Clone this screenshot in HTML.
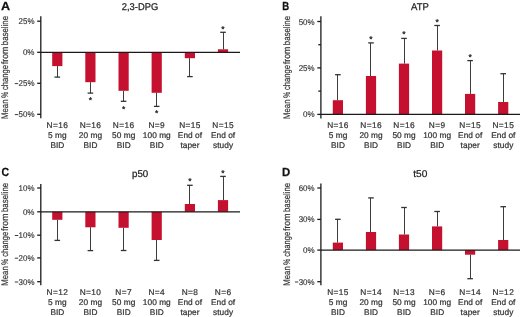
<!DOCTYPE html>
<html><head><meta charset="utf-8"><style>
html,body{margin:0;padding:0;background:#fff;}
body{width:520px;height:317px;overflow:hidden;}
svg{display:block;will-change:transform;}
text{text-rendering:geometricPrecision;font-family:"Liberation Sans", sans-serif;fill:#333;stroke:#333;stroke-width:0.25px;}
.lt{font-weight:bold;font-size:11.8px;fill:#111;stroke:#111;}
.ti{font-size:9.8px;fill:#222;stroke:#222;stroke-width:0.25px;}
.yl{font-size:9.5px;fill:#333;stroke-width:0.2px;}
.tl{font-size:8.3px;fill:#333;stroke-width:0.15px;}
.xl{font-size:8.3px;letter-spacing:0.05px;fill:#333;stroke:#333;stroke-width:0.22px;}
.xn{letter-spacing:0.42px;}
.st{font-size:8.5px;fill:#222;stroke:#222;stroke-width:0.3px;}
.ax{stroke:#1a1a1a;stroke-width:1.3;}
.tk{stroke:#1a1a1a;stroke-width:1.3;}
.eb{stroke:#3d3d3d;stroke-width:1;}
.ec{stroke:#333;stroke-width:1.3;}
</style></head><body>
<svg width="520" height="317" viewBox="0 0 520 317">
<text x="0.9" y="9.5" class="lt" textLength="9.1" lengthAdjust="spacingAndGlyphs">A</text>
<text x="121.8" y="10.0" class="ti" textLength="36.4" lengthAdjust="spacingAndGlyphs">2,3-DPG</text>
<text x="0" y="0" class="yl" transform="translate(7.9 118.9) rotate(-90)" textLength="19.4" lengthAdjust="spacingAndGlyphs">Mean</text>
<text x="0" y="0" class="yl" transform="translate(7.9 98.1) rotate(-90)" textLength="6.3" lengthAdjust="spacingAndGlyphs">%</text>
<text x="0" y="0" class="yl" transform="translate(7.9 90.0) rotate(-90)" textLength="25.0" lengthAdjust="spacingAndGlyphs">change</text>
<text x="0" y="0" class="yl" transform="translate(7.9 64.2) rotate(-90)" textLength="17.5" lengthAdjust="spacingAndGlyphs">from</text>
<text x="0" y="0" class="yl" transform="translate(7.9 45.2) rotate(-90)" textLength="29.2" lengthAdjust="spacingAndGlyphs">baseline</text>
<rect x="52.2" y="52.3" width="10.2" height="13.8" fill="#c5112f"/>
<line x1="57.5" y1="66.1" x2="57.5" y2="77.1" class="eb"/>
<line x1="54.5" y1="77.1" x2="60.1" y2="77.1" class="ec"/>
<rect x="85.3" y="52.3" width="10.2" height="29.9" fill="#c5112f"/>
<line x1="90.5" y1="82.2" x2="90.5" y2="93.1" class="eb"/>
<line x1="87.6" y1="93.1" x2="93.2" y2="93.1" class="ec"/>
<text x="90.4" y="103.0" class="st" text-anchor="middle">*</text>
<rect x="118.5" y="52.3" width="10.2" height="38.5" fill="#c5112f"/>
<line x1="123.5" y1="90.8" x2="123.5" y2="101.3" class="eb"/>
<line x1="120.8" y1="101.3" x2="126.4" y2="101.3" class="ec"/>
<text x="123.6" y="111.5" class="st" text-anchor="middle">*</text>
<rect x="151.6" y="52.3" width="10.2" height="40.5" fill="#c5112f"/>
<line x1="156.5" y1="92.8" x2="156.5" y2="106.4" class="eb"/>
<line x1="153.9" y1="106.4" x2="159.5" y2="106.4" class="ec"/>
<text x="156.7" y="116.0" class="st" text-anchor="middle">*</text>
<rect x="184.8" y="52.3" width="10.2" height="5.9" fill="#c5112f"/>
<line x1="189.5" y1="58.2" x2="189.5" y2="76.6" class="eb"/>
<line x1="187.1" y1="76.6" x2="192.7" y2="76.6" class="ec"/>
<rect x="217.9" y="49.3" width="10.2" height="3.0" fill="#c5112f"/>
<line x1="223.5" y1="49.3" x2="223.5" y2="32.3" class="eb"/>
<line x1="220.2" y1="32.3" x2="225.8" y2="32.3" class="ec"/>
<text x="223.0" y="31.7" class="st" text-anchor="middle">*</text>
<line x1="40.8" y1="16.2" x2="40.8" y2="118.3" class="ax"/>
<line x1="40.8" y1="52.3" x2="240" y2="52.3" class="ax"/>
<line x1="37.2" y1="21.2" x2="40.8" y2="21.2" class="tk"/>
<text x="18.60" y="24.2" class="tl" textLength="15.9" lengthAdjust="spacingAndGlyphs">25%</text>
<line x1="37.2" y1="52.3" x2="40.8" y2="52.3" class="tk"/>
<text x="22.90" y="55.3" class="tl" textLength="11.6" lengthAdjust="spacingAndGlyphs">0%</text>
<line x1="37.2" y1="83.3" x2="40.8" y2="83.3" class="tk"/>
<text x="18.60" y="86.3" class="tl" textLength="15.9" lengthAdjust="spacingAndGlyphs">25%</text>
<rect x="14.80" y="83.10" width="3.4" height="1" fill="#3a3a3a"/>
<line x1="37.2" y1="114.3" x2="40.8" y2="114.3" class="tk"/>
<text x="18.60" y="117.3" class="tl" textLength="15.9" lengthAdjust="spacingAndGlyphs">50%</text>
<rect x="14.80" y="114.10" width="3.4" height="1" fill="#3a3a3a"/>
<text x="57.4" y="128.1" class="xl xn" text-anchor="middle">N=16</text>
<text x="57.4" y="138.1" class="xl" text-anchor="middle">5 mg</text>
<text x="57.4" y="148.1" class="xl" text-anchor="middle">BID</text>
<text x="90.5" y="128.1" class="xl xn" text-anchor="middle">N=16</text>
<text x="90.5" y="138.1" class="xl" text-anchor="middle">20 mg</text>
<text x="90.5" y="148.1" class="xl" text-anchor="middle">BID</text>
<text x="123.7" y="128.1" class="xl xn" text-anchor="middle">N=16</text>
<text x="123.7" y="138.1" class="xl" text-anchor="middle">50 mg</text>
<text x="123.7" y="148.1" class="xl" text-anchor="middle">BID</text>
<text x="156.8" y="128.1" class="xl xn" text-anchor="middle">N=9</text>
<text x="156.8" y="138.1" class="xl" text-anchor="middle">100 mg</text>
<text x="156.8" y="148.1" class="xl" text-anchor="middle">BID</text>
<text x="190.0" y="128.1" class="xl xn" text-anchor="middle">N=15</text>
<text x="190.0" y="138.1" class="xl" text-anchor="middle">End of</text>
<text x="190.0" y="148.1" class="xl" text-anchor="middle">taper</text>
<text x="223.1" y="128.1" class="xl xn" text-anchor="middle">N=15</text>
<text x="223.1" y="138.1" class="xl" text-anchor="middle">End of</text>
<text x="223.1" y="148.1" class="xl" text-anchor="middle">study</text>
<text x="282.2" y="9.8" class="lt" textLength="6.9" lengthAdjust="spacingAndGlyphs">B</text>
<text x="411.1" y="10.0" class="ti" textLength="17.8" lengthAdjust="spacingAndGlyphs">ATP</text>
<text x="0" y="0" class="yl" transform="translate(290.1 118.9) rotate(-90)" textLength="19.4" lengthAdjust="spacingAndGlyphs">Mean</text>
<text x="0" y="0" class="yl" transform="translate(290.1 98.1) rotate(-90)" textLength="6.3" lengthAdjust="spacingAndGlyphs">%</text>
<text x="0" y="0" class="yl" transform="translate(290.1 90.0) rotate(-90)" textLength="25.0" lengthAdjust="spacingAndGlyphs">change</text>
<text x="0" y="0" class="yl" transform="translate(290.1 64.2) rotate(-90)" textLength="17.5" lengthAdjust="spacingAndGlyphs">from</text>
<text x="0" y="0" class="yl" transform="translate(290.1 45.2) rotate(-90)" textLength="29.2" lengthAdjust="spacingAndGlyphs">baseline</text>
<rect x="332.8" y="100.2" width="10.2" height="14.2" fill="#c5112f"/>
<line x1="337.5" y1="100.2" x2="337.5" y2="74.7" class="eb"/>
<line x1="335.1" y1="74.7" x2="340.7" y2="74.7" class="ec"/>
<rect x="365.9" y="76" width="10.2" height="38.4" fill="#c5112f"/>
<line x1="370.5" y1="76" x2="370.5" y2="42.9" class="eb"/>
<line x1="368.2" y1="42.9" x2="373.8" y2="42.9" class="ec"/>
<text x="371.0" y="42.3" class="st" text-anchor="middle">*</text>
<rect x="398.9" y="63.6" width="10.2" height="50.8" fill="#c5112f"/>
<line x1="404.5" y1="63.6" x2="404.5" y2="38.4" class="eb"/>
<line x1="401.2" y1="38.4" x2="406.8" y2="38.4" class="ec"/>
<text x="404.0" y="37.2" class="st" text-anchor="middle">*</text>
<rect x="432.0" y="50.5" width="10.2" height="63.9" fill="#c5112f"/>
<line x1="437.5" y1="50.5" x2="437.5" y2="25.5" class="eb"/>
<line x1="434.3" y1="25.5" x2="439.9" y2="25.5" class="ec"/>
<text x="437.1" y="24.6" class="st" text-anchor="middle">*</text>
<rect x="465.0" y="93.9" width="10.2" height="20.5" fill="#c5112f"/>
<line x1="470.5" y1="93.9" x2="470.5" y2="60.6" class="eb"/>
<line x1="467.3" y1="60.6" x2="472.9" y2="60.6" class="ec"/>
<text x="470.1" y="60.0" class="st" text-anchor="middle">*</text>
<rect x="498.1" y="102" width="10.2" height="12.4" fill="#c5112f"/>
<line x1="503.5" y1="102" x2="503.5" y2="73.7" class="eb"/>
<line x1="500.4" y1="73.7" x2="506.0" y2="73.7" class="ec"/>
<line x1="320.9" y1="16.2" x2="320.9" y2="118.4" class="ax"/>
<line x1="320.9" y1="114.4" x2="520" y2="114.4" class="ax"/>
<line x1="317.3" y1="21.5" x2="320.9" y2="21.5" class="tk"/>
<text x="298.70" y="24.5" class="tl" textLength="15.9" lengthAdjust="spacingAndGlyphs">50%</text>
<line x1="318.3" y1="44.7" x2="320.9" y2="44.7" class="tk"/>
<line x1="317.3" y1="67.9" x2="320.9" y2="67.9" class="tk"/>
<text x="298.70" y="70.9" class="tl" textLength="15.9" lengthAdjust="spacingAndGlyphs">25%</text>
<line x1="318.3" y1="91.1" x2="320.9" y2="91.1" class="tk"/>
<line x1="317.3" y1="114.4" x2="320.9" y2="114.4" class="tk"/>
<text x="303.00" y="117.4" class="tl" textLength="11.6" lengthAdjust="spacingAndGlyphs">0%</text>
<text x="338.0" y="128.1" class="xl xn" text-anchor="middle">N=16</text>
<text x="338.0" y="138.1" class="xl" text-anchor="middle">5 mg</text>
<text x="338.0" y="148.1" class="xl" text-anchor="middle">BID</text>
<text x="371.1" y="128.1" class="xl xn" text-anchor="middle">N=16</text>
<text x="371.1" y="138.1" class="xl" text-anchor="middle">20 mg</text>
<text x="371.1" y="148.1" class="xl" text-anchor="middle">BID</text>
<text x="404.1" y="128.1" class="xl xn" text-anchor="middle">N=16</text>
<text x="404.1" y="138.1" class="xl" text-anchor="middle">50 mg</text>
<text x="404.1" y="148.1" class="xl" text-anchor="middle">BID</text>
<text x="437.2" y="128.1" class="xl xn" text-anchor="middle">N=9</text>
<text x="437.2" y="138.1" class="xl" text-anchor="middle">100 mg</text>
<text x="437.2" y="148.1" class="xl" text-anchor="middle">BID</text>
<text x="470.2" y="128.1" class="xl xn" text-anchor="middle">N=15</text>
<text x="470.2" y="138.1" class="xl" text-anchor="middle">End of</text>
<text x="470.2" y="148.1" class="xl" text-anchor="middle">taper</text>
<text x="503.3" y="128.1" class="xl xn" text-anchor="middle">N=15</text>
<text x="503.3" y="138.1" class="xl" text-anchor="middle">End of</text>
<text x="503.3" y="148.1" class="xl" text-anchor="middle">study</text>
<text x="1.5" y="176.1" class="lt" textLength="7.6" lengthAdjust="spacingAndGlyphs">C</text>
<text x="132" y="177.0" class="ti" textLength="16.2" lengthAdjust="spacingAndGlyphs">p50</text>
<text x="0" y="0" class="yl" transform="translate(8.1 285.7) rotate(-90)" textLength="19.4" lengthAdjust="spacingAndGlyphs">Mean</text>
<text x="0" y="0" class="yl" transform="translate(8.1 264.9) rotate(-90)" textLength="6.3" lengthAdjust="spacingAndGlyphs">%</text>
<text x="0" y="0" class="yl" transform="translate(8.1 256.8) rotate(-90)" textLength="25.0" lengthAdjust="spacingAndGlyphs">change</text>
<text x="0" y="0" class="yl" transform="translate(8.1 231.0) rotate(-90)" textLength="17.5" lengthAdjust="spacingAndGlyphs">from</text>
<text x="0" y="0" class="yl" transform="translate(8.1 212.0) rotate(-90)" textLength="29.2" lengthAdjust="spacingAndGlyphs">baseline</text>
<rect x="52.2" y="211.8" width="10.2" height="8.0" fill="#c5112f"/>
<line x1="57.5" y1="219.8" x2="57.5" y2="240.4" class="eb"/>
<line x1="54.5" y1="240.4" x2="60.1" y2="240.4" class="ec"/>
<rect x="85.3" y="211.8" width="10.2" height="15.5" fill="#c5112f"/>
<line x1="90.5" y1="227.3" x2="90.5" y2="250.6" class="eb"/>
<line x1="87.6" y1="250.6" x2="93.2" y2="250.6" class="ec"/>
<rect x="118.5" y="211.8" width="10.2" height="16.0" fill="#c5112f"/>
<line x1="123.5" y1="227.8" x2="123.5" y2="250.5" class="eb"/>
<line x1="120.8" y1="250.5" x2="126.4" y2="250.5" class="ec"/>
<rect x="151.6" y="211.8" width="10.2" height="28.2" fill="#c5112f"/>
<line x1="156.5" y1="240.0" x2="156.5" y2="260.4" class="eb"/>
<line x1="153.9" y1="260.4" x2="159.5" y2="260.4" class="ec"/>
<rect x="184.8" y="204.0" width="10.2" height="7.8" fill="#c5112f"/>
<line x1="189.5" y1="204.0" x2="189.5" y2="185.3" class="eb"/>
<line x1="187.1" y1="185.3" x2="192.7" y2="185.3" class="ec"/>
<text x="189.9" y="184.4" class="st" text-anchor="middle">*</text>
<rect x="217.9" y="200.1" width="10.2" height="11.7" fill="#c5112f"/>
<line x1="223.5" y1="200.1" x2="223.5" y2="176.4" class="eb"/>
<line x1="220.2" y1="176.4" x2="225.8" y2="176.4" class="ec"/>
<text x="223.0" y="175.7" class="st" text-anchor="middle">*</text>
<line x1="40.8" y1="184" x2="40.8" y2="285.2" class="ax"/>
<line x1="40.8" y1="211.8" x2="240" y2="211.8" class="ax"/>
<line x1="37.2" y1="188" x2="40.8" y2="188" class="tk"/>
<text x="18.60" y="191.0" class="tl" textLength="15.9" lengthAdjust="spacingAndGlyphs">10%</text>
<line x1="37.2" y1="211.8" x2="40.8" y2="211.8" class="tk"/>
<text x="22.90" y="214.8" class="tl" textLength="11.6" lengthAdjust="spacingAndGlyphs">0%</text>
<line x1="37.2" y1="235.2" x2="40.8" y2="235.2" class="tk"/>
<text x="18.60" y="238.2" class="tl" textLength="15.9" lengthAdjust="spacingAndGlyphs">10%</text>
<rect x="14.80" y="235.00" width="3.4" height="1" fill="#3a3a3a"/>
<line x1="37.2" y1="257.9" x2="40.8" y2="257.9" class="tk"/>
<text x="18.60" y="260.9" class="tl" textLength="15.9" lengthAdjust="spacingAndGlyphs">20%</text>
<rect x="14.80" y="257.70" width="3.4" height="1" fill="#3a3a3a"/>
<line x1="37.2" y1="281.7" x2="40.8" y2="281.7" class="tk"/>
<text x="18.60" y="284.7" class="tl" textLength="15.9" lengthAdjust="spacingAndGlyphs">30%</text>
<rect x="14.80" y="281.50" width="3.4" height="1" fill="#3a3a3a"/>
<text x="57.4" y="294.6" class="xl xn" text-anchor="middle">N=12</text>
<text x="57.4" y="304.6" class="xl" text-anchor="middle">5 mg</text>
<text x="57.4" y="314.6" class="xl" text-anchor="middle">BID</text>
<text x="90.5" y="294.6" class="xl xn" text-anchor="middle">N=10</text>
<text x="90.5" y="304.6" class="xl" text-anchor="middle">20 mg</text>
<text x="90.5" y="314.6" class="xl" text-anchor="middle">BID</text>
<text x="123.7" y="294.6" class="xl xn" text-anchor="middle">N=7</text>
<text x="123.7" y="304.6" class="xl" text-anchor="middle">50 mg</text>
<text x="123.7" y="314.6" class="xl" text-anchor="middle">BID</text>
<text x="156.8" y="294.6" class="xl xn" text-anchor="middle">N=4</text>
<text x="156.8" y="304.6" class="xl" text-anchor="middle">100 mg</text>
<text x="156.8" y="314.6" class="xl" text-anchor="middle">BID</text>
<text x="190.0" y="294.6" class="xl xn" text-anchor="middle">N=8</text>
<text x="190.0" y="304.6" class="xl" text-anchor="middle">End of</text>
<text x="190.0" y="314.6" class="xl" text-anchor="middle">taper</text>
<text x="223.1" y="294.6" class="xl xn" text-anchor="middle">N=6</text>
<text x="223.1" y="304.6" class="xl" text-anchor="middle">End of</text>
<text x="223.1" y="314.6" class="xl" text-anchor="middle">study</text>
<text x="282" y="176.3" class="lt" textLength="8.2" lengthAdjust="spacingAndGlyphs">D</text>
<text x="413.3" y="177.0" class="ti" textLength="14.1" lengthAdjust="spacingAndGlyphs">t50</text>
<text x="0" y="0" class="yl" transform="translate(290.1 285.7) rotate(-90)" textLength="19.4" lengthAdjust="spacingAndGlyphs">Mean</text>
<text x="0" y="0" class="yl" transform="translate(290.1 264.9) rotate(-90)" textLength="6.3" lengthAdjust="spacingAndGlyphs">%</text>
<text x="0" y="0" class="yl" transform="translate(290.1 256.8) rotate(-90)" textLength="25.0" lengthAdjust="spacingAndGlyphs">change</text>
<text x="0" y="0" class="yl" transform="translate(290.1 231.0) rotate(-90)" textLength="17.5" lengthAdjust="spacingAndGlyphs">from</text>
<text x="0" y="0" class="yl" transform="translate(290.1 212.0) rotate(-90)" textLength="29.2" lengthAdjust="spacingAndGlyphs">baseline</text>
<rect x="332.8" y="242.6" width="10.2" height="7.5" fill="#c5112f"/>
<line x1="337.5" y1="242.6" x2="337.5" y2="219.3" class="eb"/>
<line x1="335.1" y1="219.3" x2="340.7" y2="219.3" class="ec"/>
<rect x="365.9" y="232" width="10.2" height="18.1" fill="#c5112f"/>
<line x1="370.5" y1="232" x2="370.5" y2="197.9" class="eb"/>
<line x1="368.2" y1="197.9" x2="373.8" y2="197.9" class="ec"/>
<rect x="398.9" y="234.5" width="10.2" height="15.6" fill="#c5112f"/>
<line x1="404.5" y1="234.5" x2="404.5" y2="207.5" class="eb"/>
<line x1="401.2" y1="207.5" x2="406.8" y2="207.5" class="ec"/>
<rect x="432.0" y="226.4" width="10.2" height="23.7" fill="#c5112f"/>
<line x1="437.5" y1="226.4" x2="437.5" y2="211.5" class="eb"/>
<line x1="434.3" y1="211.5" x2="439.9" y2="211.5" class="ec"/>
<rect x="465.0" y="250.1" width="10.2" height="4.6" fill="#c5112f"/>
<line x1="470.5" y1="254.7" x2="470.5" y2="278.7" class="eb"/>
<line x1="467.3" y1="278.7" x2="472.9" y2="278.7" class="ec"/>
<rect x="498.1" y="240" width="10.2" height="10.1" fill="#c5112f"/>
<line x1="503.5" y1="240" x2="503.5" y2="206.7" class="eb"/>
<line x1="500.4" y1="206.7" x2="506.0" y2="206.7" class="ec"/>
<line x1="320.9" y1="183.4" x2="320.9" y2="285.2" class="ax"/>
<line x1="320.9" y1="250.1" x2="520" y2="250.1" class="ax"/>
<line x1="317.3" y1="188" x2="320.9" y2="188" class="tk"/>
<text x="298.70" y="191.0" class="tl" textLength="15.9" lengthAdjust="spacingAndGlyphs">60%</text>
<line x1="317.3" y1="219.4" x2="320.9" y2="219.4" class="tk"/>
<text x="298.70" y="222.4" class="tl" textLength="15.9" lengthAdjust="spacingAndGlyphs">30%</text>
<line x1="317.3" y1="250.1" x2="320.9" y2="250.1" class="tk"/>
<text x="303.00" y="253.1" class="tl" textLength="11.6" lengthAdjust="spacingAndGlyphs">0%</text>
<line x1="317.3" y1="281.7" x2="320.9" y2="281.7" class="tk"/>
<text x="298.70" y="284.7" class="tl" textLength="15.9" lengthAdjust="spacingAndGlyphs">30%</text>
<rect x="294.90" y="281.50" width="3.4" height="1" fill="#3a3a3a"/>
<text x="338.0" y="294.6" class="xl xn" text-anchor="middle">N=15</text>
<text x="338.0" y="304.6" class="xl" text-anchor="middle">5 mg</text>
<text x="338.0" y="314.6" class="xl" text-anchor="middle">BID</text>
<text x="371.1" y="294.6" class="xl xn" text-anchor="middle">N=14</text>
<text x="371.1" y="304.6" class="xl" text-anchor="middle">20 mg</text>
<text x="371.1" y="314.6" class="xl" text-anchor="middle">BID</text>
<text x="404.1" y="294.6" class="xl xn" text-anchor="middle">N=13</text>
<text x="404.1" y="304.6" class="xl" text-anchor="middle">50 mg</text>
<text x="404.1" y="314.6" class="xl" text-anchor="middle">BID</text>
<text x="437.2" y="294.6" class="xl xn" text-anchor="middle">N=6</text>
<text x="437.2" y="304.6" class="xl" text-anchor="middle">100 mg</text>
<text x="437.2" y="314.6" class="xl" text-anchor="middle">BID</text>
<text x="470.2" y="294.6" class="xl xn" text-anchor="middle">N=14</text>
<text x="470.2" y="304.6" class="xl" text-anchor="middle">End of</text>
<text x="470.2" y="314.6" class="xl" text-anchor="middle">taper</text>
<text x="503.3" y="294.6" class="xl xn" text-anchor="middle">N=12</text>
<text x="503.3" y="304.6" class="xl" text-anchor="middle">End of</text>
<text x="503.3" y="314.6" class="xl" text-anchor="middle">study</text>
</svg>
</body></html>
